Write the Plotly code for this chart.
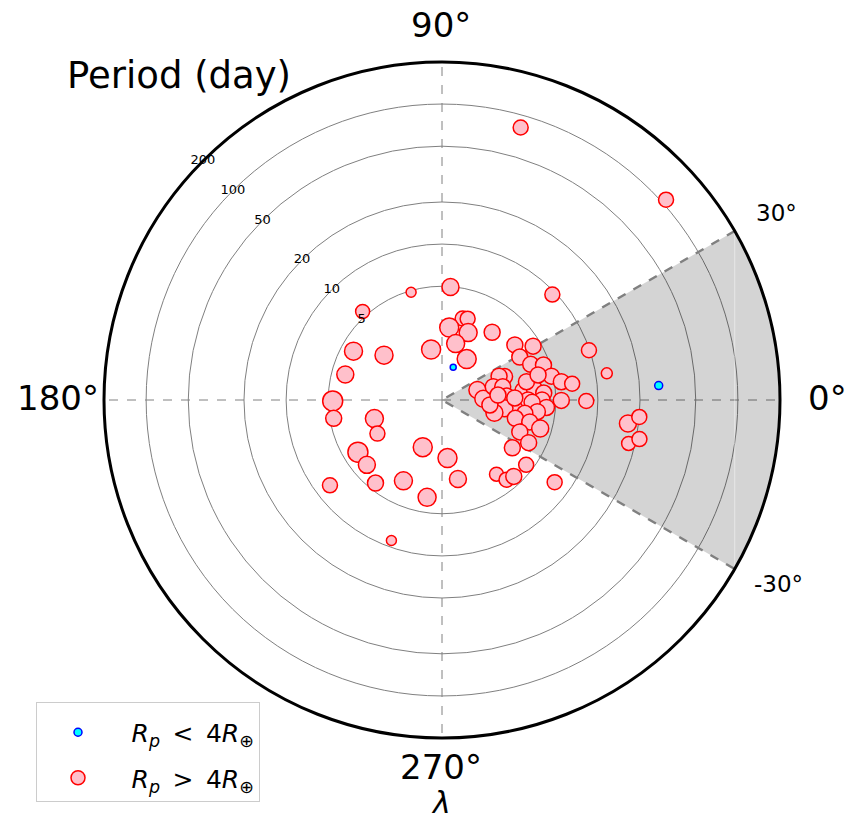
import numpy as np
import plotly.graph_objects as go

# ---------------- data ----------------
# planets with Rp > 4 R_earth : longitude lambda (deg), period (day), marker size (px)
big_lambda = [73.9, 41.8, 18.7, 9.2, -0.4, -7.2, -4.9, -13.1, -11.2, 85.7,
              43.7, 75.8, 72.5, 84.3, 68.8, 53.5, 76.4, 58.9, -84.6, -78.6,
              -53.7, -51.0, -46.8, -37.6, -34.2, -36.1, 106.0, 131.9, 102.2, 151.1,
              142.3, 165.2, 180.5, 189.6, 195.4, 207.5, 247.8, 211.8, 220.8, 217.3,
              231.3, 244.5, 261.3, 250.2,
              37.1, 30.6, 28.9, 21.9, 19.0, 12.3, 8.7, 7.1, 20.5, 22.7,
              15.7, 1.8, 14.5, 12.3, 3.5, 6.8, 6.8, 3.9, -0.2, -5.4,
              -7.5, -13.7, 0.0, 0.0, -4.1, -1.5, -7.0, -9.1, -14.0, -14.0,
              -16.2, -22.3, -26.2, 12.2, 14.6, 1.6, -5.9, 5.1]
big_period = [81.8, 108.0, 9.88, 12.0, 8.26, 16.8, 20.0, 18.0, 21.1, 4.96,
              9.48, 3.07, 3.13, 2.55, 2.53, 3.08, 2.00, 1.69, 2.01, 2.90,
              3.50, 4.16, 4.32, 4.42, 3.12, 7.63, 4.87, 5.44, 1.80, 4.06,
              2.57, 3.99, 4.65, 4.69, 2.44, 2.55, 1.78, 3.92, 3.94, 7.81,
              4.43, 3.36, 3.89, 8.98,
              3.46, 4.39, 3.32, 3.71, 4.50, 4.86, 5.61, 6.66, 2.31, 2.13,
              1.41, 1.52, 1.84, 2.14, 2.23, 2.95, 3.56, 4.12, 5.48, 2.70,
              2.17, 1.87, 3.17, 3.99, 4.31, 3.39, 3.74, 3.06, 2.67, 3.41,
              4.14, 3.07, 3.77, 3.19, 3.94, 2.55, 1.70, 1.94]
big_size = [13, 13, 13, 9, 13, 15, 13, 12, 13, 15,
            13, 13, 13, 17, 16, 14, 16, 17, 17, 15,
            12, 13, 14, 13, 14, 13, 8, 12, 17, 16,
            16, 15, 18, 14, 16, 13, 17, 18, 15, 13,
            14, 16, 16, 8,
            14, 14, 14, 14, 14, 14, 14, 13, 14, 14,
            15, 15, 14, 14, 14, 14, 14, 14, 14, 15,
            15, 15, 14, 14, 14, 14, 14, 14, 14, 14,
            15, 14, 14, 14, 14, 14, 14, 14]

# planets with Rp < 4 R_earth
small_lambda = [3.8, 71.1]
small_period = [27.4, 1.36]
small_size = [8, 6]

# radial axis (log period)
period_ticks = [5, 10, 20, 50, 100, 200]
period_range = [0.77, 200]
# shaded longitude window
sector_half_deg = 30
angle_ticks = [0, 90, 180, 270]

FONT = "DejaVu Sans"

fig = go.Figure()

# shaded sector (from centre to outer edge, -30..30 deg)
arc_theta = np.linspace(-sector_half_deg, sector_half_deg, 121)
sec_theta = np.concatenate([[0], arc_theta, [0]])
sec_r = np.concatenate([[period_range[0]], np.full(arc_theta.size, period_range[1]), [period_range[0]]])
fig.add_trace(go.Scatterpolar(
    r=sec_r, theta=sec_theta, mode="lines", fill="toself",
    fillcolor="rgba(0,0,0,0.17)", line=dict(width=0), showlegend=False, hoverinfo="skip"))
# faint chord of the fill polygon
fig.add_trace(go.Scatterpolar(
    r=[period_range[1], period_range[1]], theta=[sector_half_deg, -sector_half_deg],
    mode="lines", line=dict(color="rgba(255,255,255,0.45)", width=1),
    showlegend=False, hoverinfo="skip"))
# dashed edges of sector
fig.add_trace(go.Scatterpolar(
    r=[period_range[1], period_range[0], period_range[1]],
    theta=[sector_half_deg, 0, -sector_half_deg], mode="lines",
    line=dict(color="gray", width=2.5, dash="dash"),
    showlegend=False, hoverinfo="skip", cliponaxis=False))

# data
fig.add_trace(go.Scatterpolar(
    r=big_period, theta=big_lambda, mode="markers",
    marker=dict(size=[s + 2 for s in big_size], color="pink", opacity=1,
                line=dict(color="red", width=1.5)),
    showlegend=False))
fig.add_trace(go.Scatterpolar(
    r=small_period, theta=small_lambda, mode="markers",
    marker=dict(size=small_size, color="#00ffff", opacity=1,
                line=dict(color="blue", width=1.5)),
    showlegend=False))

# legend entries
sp = "\u2002"
fig.add_trace(go.Scatterpolar(
    r=[None], theta=[None], mode="markers", legendgroup="a",
    marker=dict(size=8, color="#00ffff", line=dict(color="blue", width=1.5)),
    name=sp + "<i>R</i><sub><i>p</i></sub>" + sp + "&lt;" + sp + "4<i>R</i><sub>⊕</sub>"))
fig.add_trace(go.Scatterpolar(
    r=[None], theta=[None], mode="markers", legendgroup="b",
    marker=dict(size=14, color="pink", line=dict(color="red", width=1.5)),
    name=sp + "<i>R</i><sub><i>p</i></sub>" + sp + "&gt;" + sp + "4<i>R</i><sub>⊕</sub>"))

# radial tick labels along 135 deg
fig.add_trace(go.Scatterpolar(
    r=period_ticks, theta=[135] * len(period_ticks), mode="text",
    text=[str(t) for t in period_ticks], textposition="middle center",
    textfont=dict(family=FONT, size=13, color="black"),
    showlegend=False, hoverinfo="skip", cliponaxis=False))

W, H = 848, 819
cx, cy, R = 442, 400, 338
fig.update_layout(
    width=W, height=H, margin=dict(l=0, r=0, t=0, b=0),
    paper_bgcolor="white", font=dict(family=FONT, color="black"),
    polar=dict(
        domain=dict(x=[(cx - R) / W, (cx + R) / W], y=[(H - cy - R) / H, (H - cy + R) / H]),
        bgcolor="white",
        radialaxis=dict(type="log", range=[np.log10(period_range[0]), np.log10(period_range[1])],
                        tickvals=period_ticks, showticklabels=False, ticks="",
                        showline=False, gridcolor="gray", gridwidth=1, angle=135),
        angularaxis=dict(tickvals=angle_ticks, showticklabels=False, ticks="",
                         showgrid=True, gridcolor="gray", gridwidth=1, griddash="dash",
                         showline=True, linecolor="black", linewidth=3,
                         direction="counterclockwise", rotation=0),
    ),
    legend=dict(x=36 / W, y=(H - 702) / H, xanchor="left", yanchor="top",
                bgcolor="white", bordercolor="#cccccc", borderwidth=1,
                font=dict(family=FONT, size=25, color="black"),
                title=dict(text=" ", font=dict(size=5)),
                tracegroupgap=10, itemwidth=72),
    showlegend=True,
)

def ann(text, x, y, size, **kw):
    fig.add_annotation(text=text, x=x / W, y=(H - y) / H, xref="paper", yref="paper",
                       showarrow=False, font=dict(family=FONT, size=size, color="black"),
                       xanchor="center", yanchor="middle", **kw)

ann("0°", 827, 398, 34)
ann("90°", 441, 25, 34)
ann("180°", 58, 398, 34)
ann("270°", 441, 767, 34)
ann("30°", 776, 213, 23)
ann("-30°", 778, 584, 23)
ann("<i>λ</i>", 441, 802, 30)
ann("Period (day)", 179, 75, 37)

fig.write_html("out.html")
